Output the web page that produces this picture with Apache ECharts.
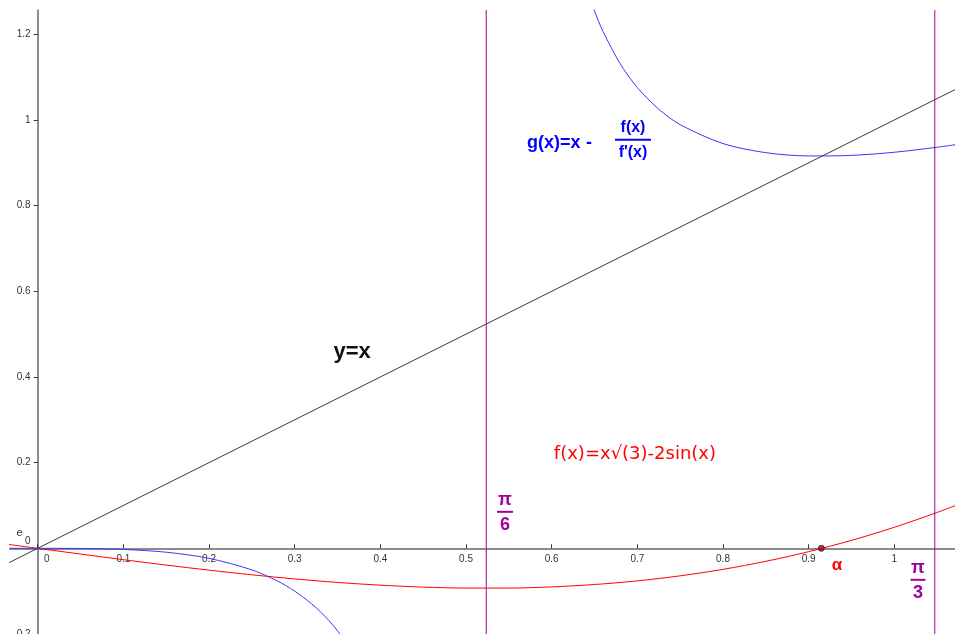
<!DOCTYPE html>
<html>
<head>
<meta charset="utf-8">
<script src="https://cdn.jsdelivr.net/npm/echarts@6/dist/echarts.min.js"></script>
<style>
  html, body { margin: 0; padding: 0; background: #fff; }
  #main { width: 955px; height: 634px; }
</style>
</head>
<body>
<div id="main"></div>
<script>
// f(x) = x*sqrt(3) - 2sin(x)
let fX = [-0.035, 0, 0.05, 0.1, 0.15, 0.2, 0.25, 0.3, 0.35, 0.4, 0.45, 0.5, 0.55, 0.6,
  0.65, 0.7, 0.75, 0.8, 0.85, 0.9, 0.95, 1.0, 1.05, 1.08];
let fY = [0.0094, 0, -0.0134, -0.0265, -0.0391, -0.0509, -0.0618, -0.0714, -0.0796, -0.0860,
  -0.0905, -0.0928, -0.0928, -0.0900, -0.0845, -0.0760, -0.0642, -0.0491, -0.0303, -0.0078,
  0.0186, 0.0491, 0.0838, 0.1067];

// g(x) = x - f(x)/f'(x), left branch (before pi/6)
let gLeftX = [-0.035, 0, 0.05, 0.1, 0.15, 0.2, 0.25, 0.28, 0.3, 0.32, 0.33, 0.34, 0.35, 0.36, 0.37, 0.38];
let gLeftY = [0.0001, 0, -0.0003, -0.0026, -0.0091, -0.0233, -0.0503, -0.0764, -0.0999, -0.1299,
  -0.1481, -0.1688, -0.1925, -0.2197, -0.2512, -0.2878];

// g(x), right branch (after pi/6)
let gRightX = [0.62, 0.64, 0.65, 0.66, 0.68, 0.7, 0.725, 0.75, 0.8, 0.85, 0.9, 0.95, 1.0, 1.05, 1.08];
let gRightY = [1.4657, 1.3117, 1.2544, 1.2063, 1.1311, 1.0756, 1.0251, 0.9891, 0.9449, 0.9236,
  0.9160, 0.9173, 0.9246, 0.9363, 0.9448];

// y = x
let idX = [-0.035, 1.08];

// vertical lines pi/6 and pi/3, root alpha
let verticals = [0.5236, 1.0472];
let alpha = 0.9148;

// tick labels
let xTicks = [0, 0.1, 0.2, 0.3, 0.4, 0.5, 0.6, 0.7, 0.8, 0.9, 1];
let yTicks = [-0.2, 0, 0.2, 0.4, 0.6, 0.8, 1, 1.2];

let xMin = -0.0323, xMax = 1.0708;
let yMin = -0.2, yMax = 1.2567;

let zip = function (xs, ys) {
    return xs.map(function (x, i) { return [x, ys[i]]; });
};

let W = 955, H = 634;
let gLeft = 10, gTop = 10;
// pixel offsets of the zero lines, so the label grids sit on the axes
let zeroFromLeft = gLeft + (W - gLeft) * (0 - xMin) / (xMax - xMin);
let zeroFromBottom = (H - gTop) * (0 - yMin) / (yMax - yMin);

let myChart = echarts.init(document.getElementById('main'));

let axisColor = '#666';
let purple = '#a000a0';
let labelFont = '"Liberation Sans", Arial, sans-serif';
let tickFmt = function (v) {
    let r = Math.round(v * 10) / 10;
    return r === 0 ? '{z|0}' : String(r);
};

let series = [
    {
        name: 'y=x',
        type: 'line',
        data: zip(idX, idX),
        symbol: 'none',
        lineStyle: { color: '#3a3a3a', width: 1 }
    },
    {
        name: 'f',
        type: 'line',
        data: zip(fX, fY),
        symbol: 'none',
        smooth: 0.3,
        lineStyle: { color: '#ff0000', width: 1 }
    },
    {
        name: 'g1',
        type: 'line',
        data: zip(gLeftX, gLeftY),
        symbol: 'none',
        smooth: 0.3,
        lineStyle: { color: '#3838ff', width: 1 }
    },
    {
        name: 'g2',
        type: 'line',
        data: zip(gRightX, gRightY),
        symbol: 'none',
        smooth: 0.3,
        lineStyle: { color: '#3838ff', width: 1 }
    },
    {
        name: 'alpha',
        type: 'scatter',
        data: [[alpha, 0]],
        symbolSize: 6,
        z: 5,
        itemStyle: { color: '#b00000', borderColor: '#222', borderWidth: 1 }
    }
];
verticals.forEach(function (v) {
    series.push({
        type: 'line',
        data: [[v, yMin], [v, yMax]],
        symbol: 'none',
        lineStyle: { color: purple, width: 1 }
    });
});

let option = {
    animation: false,
    backgroundColor: '#fff',
    grid: [
        { left: gLeft, right: 0, top: gTop, bottom: 0, outerBoundsMode: 'none' },
        { left: gLeft, right: 0, top: gTop, bottom: zeroFromBottom, outerBoundsMode: 'none' },
        { left: zeroFromLeft, right: 0, top: gTop, bottom: 0, outerBoundsMode: 'none' }
    ],
    xAxis: [
        {
            gridIndex: 0,
            type: 'value',
            min: xMin,
            max: xMax,
            splitLine: { show: false },
            axisLine: { onZero: true, lineStyle: { color: axisColor, width: 1.5 } },
            axisTick: { inside: true, length: 4, customValues: xTicks, lineStyle: { color: '#333' } },
            axisLabel: { show: false }
        },
        {
            gridIndex: 1,
            type: 'value',
            min: xMin,
            max: xMax,
            splitLine: { show: false },
            axisLine: { show: false, onZero: false },
            axisTick: { show: false },
            axisLabel: {
                customValues: xTicks,
                fontSize: 10,
                fontFamily: labelFont,
                color: '#333',
                margin: 6,
                formatter: tickFmt,
                rich: { z: { padding: [0, 0, 0, 18], fontSize: 10, color: '#333' } }
            }
        },
        { gridIndex: 2, type: 'value', min: 0, max: xMax, show: false }
    ],
    yAxis: [
        {
            gridIndex: 0,
            type: 'value',
            min: yMin,
            max: yMax,
            splitLine: { show: false },
            axisLine: { onZero: true, lineStyle: { color: axisColor, width: 1.5 } },
            axisTick: { length: 4, customValues: yTicks, lineStyle: { color: '#333' } },
            axisLabel: { show: false }
        },
        { gridIndex: 1, type: 'value', min: 0, max: yMax, show: false },
        {
            gridIndex: 2,
            type: 'value',
            min: yMin,
            max: yMax,
            splitLine: { show: false },
            axisLine: { show: false, onZero: false },
            axisTick: { show: false },
            axisLabel: {
                customValues: yTicks,
                fontSize: 10,
                fontFamily: labelFont,
                color: '#333',
                margin: 7,
                formatter: tickFmt,
                rich: { z: { padding: [0, 0, 14, 0], fontSize: 10, color: '#333' } }
            }
        }
    ],
    series: series
};

myChart.setOption(option, true);

// text annotations, placed from data coordinates
let px = function (x, y) {
    return myChart.convertToPixel({ gridIndex: 0 }, [x, y]);
};
let txt = function (text, p, fill, font, align) {
    return {
        type: 'text',
        silent: true,
        style: {
            text: text, x: p[0], y: p[1], fill: fill, font: font,
            align: align || 'center', verticalAlign: 'middle'
        }
    };
};
let bar = function (p, w, color) {
    return {
        type: 'line',
        silent: true,
        shape: { x1: p[0] - w / 2, y1: p[1], x2: p[0] + w / 2, y2: p[1] },
        style: { stroke: color, lineWidth: 2 }
    };
};
let fraction = function (top, bottom, p, w, color, font) {
    return [
        txt(top, [p[0], p[1] - 12], color, font),
        bar(p, w, color),
        txt(bottom, [p[0], p[1] + 13], color, font)
    ];
};

let boldFont = 'bold 18px "Liberation Sans", Arial, sans-serif';
let gPos = px(0.5712, 0.9466);
let p6 = px(0.5455, 0.0852);
let p3 = px(1.0276, -0.0735);

let elements = [];
elements.push(txt('y=x', px(0.367, 0.4587), '#111', 'bold 22px "Liberation Sans", Arial, sans-serif'));
elements.push(txt('e', px(-0.0212, 0.035), '#333', '11px "Liberation Sans", Arial, sans-serif'));
elements.push(txt('f(x)=x\u221A(3)-2sin(x)', px(0.6972, 0.2206), '#ff0000', '18px "DejaVu Sans", sans-serif'));
elements.push(txt('\u03B1', px(0.9331, -0.0385), '#ff0000', 'bold 17px "Liberation Sans", Arial, sans-serif'));
elements.push(txt('g(x)=x', gPos, '#0000ff', boldFont, 'left'));
elements.push(txt('-', [gPos[0] + 62, gPos[1]], '#0000ff', boldFont));
elements = elements.concat(fraction('f(x)', 'f\'(x)', [gPos[0] + 106, gPos[1] - 3], 36, '#0000ff', 'bold 16px "Liberation Sans", Arial, sans-serif'));
elements = elements.concat(fraction('\u03C0', '6', p6, 16, purple, boldFont));
elements = elements.concat(fraction('\u03C0', '3', p3, 15, purple, boldFont));

myChart.setOption({ graphic: { elements: elements } });
</script>
</body>
</html>
